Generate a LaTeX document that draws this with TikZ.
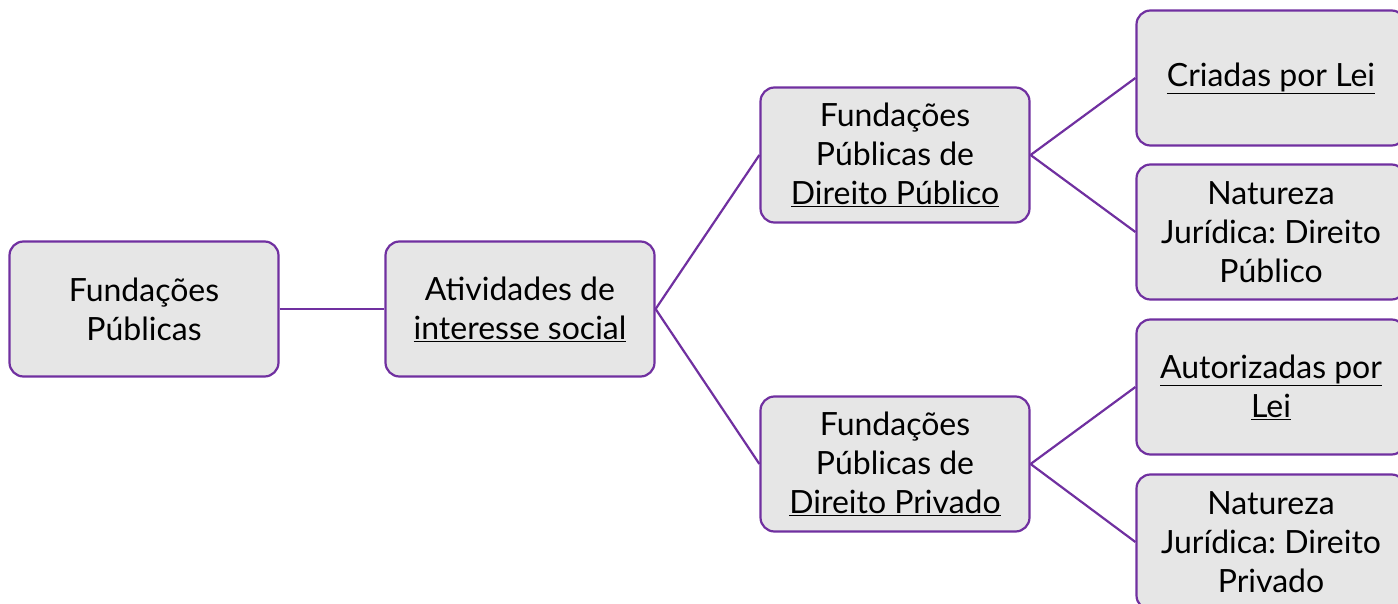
\documentclass[tikz,border=0pt]{standalone}
\usepackage{fontspec}
\setmainfont{Lato}
\frenchspacing
\definecolor{edge}{HTML}{7030A0}
\definecolor{boxfill}{HTML}{E6E6E6}
\tikzset{
  x=1pt,y=-1pt,
  box/.style={draw=edge,line width=2.2pt,fill=boxfill,rounded corners=14pt,
    minimum width=269pt,minimum height=135pt,align=center,inner sep=2pt,
    font=\fontsize{32}{39}\selectfont},
  link/.style={draw=edge,line width=2.2pt}
}
\newcommand{\ul}[1]{\underline{#1}}
\begin{document}
\begin{tikzpicture}
\useasboundingbox (0,0) rectangle (1398,604);
\clip (0,0) rectangle (1398,604);
\node[box] (fp) at (144,309) {Fundações\\Públicas};
\node[box] (ais) at (520,309) {Atividades de\\\ul{interesse social}};
\node[box] (fpub) at (895,155) {Fundações\\Públicas de\\\ul{Direito Público}};
\node[box] (fpriv) at (895,464) {Fundações\\Públicas de\\\ul{Direito Privado}};
\node[box] (cl) at (1271,78) {\ul{Criadas por Lei}};
\node[box] (njpub) at (1271,232) {Natureza\\Jurídica: Direito\\Público};
\node[box] (al) at (1271,387) {\ul{Autorizadas por}\\\ul{Lei}};
\node[box] (njpriv) at (1271,542) {Natureza\\Jurídica: Direito\\Privado};
\draw[link] (fp.east) -- (ais.west);
\draw[link] (ais.east) -- (fpub.west);
\draw[link] (ais.east) -- (fpriv.west);
\draw[link] (fpub.east) -- (cl.west);
\draw[link] (fpub.east) -- (njpub.west);
\draw[link] (fpriv.east) -- (al.west);
\draw[link] (fpriv.east) -- (njpriv.west);
\end{tikzpicture}
\end{document}
